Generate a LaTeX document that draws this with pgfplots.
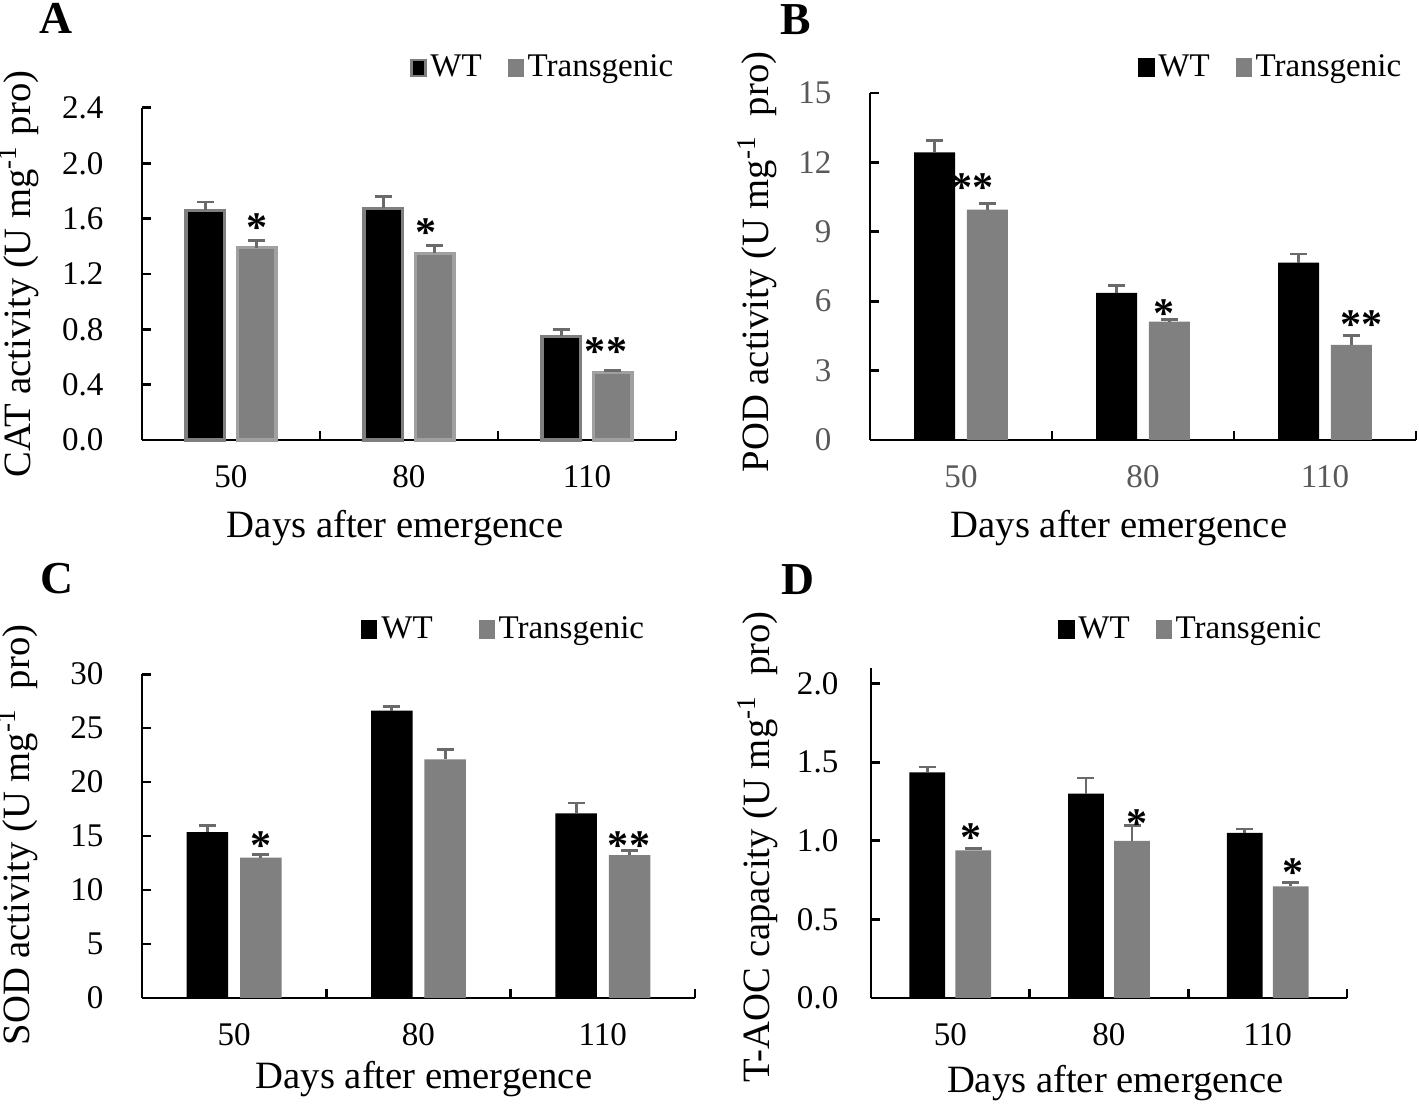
\documentclass[border=0pt]{standalone}
\usepackage{fontspec}
\setmainfont{Liberation Serif}
\usepackage{pgfplots}
\pgfplotsset{compat=1.18}
\definecolor{bargray}{HTML}{808080}
\definecolor{errgray}{HTML}{6A6A6A}
\definecolor{wtedge}{HTML}{7F7F7F}
\definecolor{tredge}{HTML}{A0A0A0}
\definecolor{tickgray}{HTML}{595959}
\pgfplotsset{
  sqlegend/.style 2 args={legend image code/.code={\filldraw[fill=#1, draw=#2, line width=0.6pt] (0cm,-0.08cm) rectangle (0.14cm,0.085cm);}},
  errs/.style={error bars/.cd, y dir=plus, y explicit, error mark=|,
     error bar style={errgray, line width=0.8pt},
     error mark options={errgray, mark size=0.085cm, line width=0.8pt}},
  stars/.style={draw=none, mark=none, forget plot, nodes near coords={\pgfplotspointmeta},
     point meta=explicit symbolic,
     nodes near coords style={anchor=base, inner sep=0pt, font=\fontsize{12}{14}\bfseries\selectfont}},
  panel/.style={
    scale only axis, anchor=south west, clip=false,
    axis x line*=bottom, axis y line*=left,
    xmin=-0.5, xmax=2.5, ymin=0,
    xtick={0,1,2}, xticklabels={50,80,110},
    minor xtick={0.5,1.5,2.5},
    major x tick style={draw=none},
    tick align=inside,
    major tick length=0.09cm, minor tick length=0.09cm,
    tick style={black, line width=0.85pt},
    axis line style={line width=0.85pt, black},
    ticklabel style={font=\fontsize{9.4}{11}\selectfont, inner sep=0pt},
    yticklabel style={anchor=east, xshift=-0.38cm},
    xticklabel style={anchor=base, yshift=-0.48cm},
    label style={font=\fontsize{11}{13}\selectfont, inner sep=0pt},
    xlabel={Days after emergence},
    legend style={draw=none, fill=none, inner sep=0pt, outer sep=0pt, legend columns=2,
       font=\fontsize{9.4}{11}\selectfont, anchor=east, nodes={inner sep=1.1pt},
       /tikz/every even column/.append style={column sep=0.22cm}},
  },
}
\begin{document}
\begin{tikzpicture}
\useasboundingbox (0,0) rectangle (14.19,11.05);
% ---------------- A ----------------
\begin{axis}[panel, at={(1.42cm,6.65cm)}, width=5.34cm, height=3.32cm,
  ymax=2.4, ytick={0,0.4,0.8,1.2,1.6,2.0,2.4},
  yticklabels={0.0,0.4,0.8,1.2,1.6,2.0,2.4},
  ylabel={CAT activity (U mg\textsuperscript{-1} pro)},
  xlabel style={at={(axis description cs:0.474,-0.295)}, anchor=base},
  ylabel style={at={(axis description cs:-0.208,0.50)}, anchor=base},
  legend style={at={(axis description cs:1.002,1.12)}}]
\addplot[ybar, bar width=0.215, bar shift=0pt, fill=black, draw=wtedge, line width=0.9pt, sqlegend={black}{wtedge}, errs]
  coordinates {(-0.145,1.66) +- (0,0.06) (0.855,1.675) +- (0,0.085) (1.855,0.75) +- (0,0.05)};
\addplot[ybar, bar width=0.215, bar shift=0pt, fill=bargray, draw=tredge, line width=0.9pt, sqlegend={bargray}{bargray}, errs]
  coordinates {(0.145,1.39) +- (0,0.05) (1.145,1.35) +- (0,0.055) (2.145,0.49) +- (0,0.01)};
\legend{WT,Transgenic}
\addplot[stars] table[meta=m] {
x y m
0.144 1.433 *
1.097 1.40 *
2.107 0.535 **
};
\node[anchor=base, font=\fontsize{13}{15}\bfseries\selectfont] at (axis description cs:-0.161,1.223) {A};
\end{axis}
% ---------------- B ----------------
\begin{axis}[panel, at={(8.70cm,6.65cm)}, width=5.46cm, height=3.47cm,
  ymax=15, ytick={0,3,6,9,12,15},
  yticklabels={0,3,6,9,12,15},
  ticklabel style={color=tickgray},
  ylabel={POD activity (U mg\textsuperscript{-1}\ \ pro)},
  xlabel style={at={(axis description cs:0.456,-0.282)}, anchor=base},
  ylabel style={at={(axis description cs:-0.185,0.513)}, anchor=base},
  legend style={at={(axis description cs:0.98,1.072)}}]
\addplot[ybar, bar width=0.225, bar shift=0pt, fill=black, draw=none, sqlegend={black}{black}, errs]
  coordinates {(-0.145,12.43) +- (0,0.51) (0.855,6.36) +- (0,0.32) (1.855,7.67) +- (0,0.37)};
\addplot[ybar, bar width=0.225, bar shift=0pt, fill=bargray, draw=none, sqlegend={bargray}{bargray}, errs]
  coordinates {(0.145,9.96) +- (0,0.26) (1.145,5.12) +- (0,0.09) (2.145,4.11) +- (0,0.39)};
\legend{WT,Transgenic}
\addplot[stars] table[meta=m] {
x y m
0.065 10.29 **
1.113 4.86 *
2.199 4.37 **
};
\node[anchor=base, font=\fontsize{13}{15}\bfseries\selectfont] at (axis description cs:-0.1355,1.170) {B};
\end{axis}
% ---------------- C ----------------
\begin{axis}[panel, at={(1.42cm,1.07cm)}, width=5.53cm, height=3.24cm,
  ymax=30, ytick={0,5,10,15,20,25,30},
  yticklabels={0,5,10,15,20,25,30},
  ylabel={SOD activity (U mg\textsuperscript{-1}\ \ pro)},
  xlabel style={at={(axis description cs:0.51,-0.278)}, anchor=base},
  ylabel style={at={(axis description cs:-0.203,0.503)}, anchor=base},
  legend style={at={(axis description cs:0.915,1.136)}, /tikz/every even column/.append style={column sep=0.42cm}}]
\addplot[ybar, bar width=0.225, bar shift=0pt, fill=black, draw=none, sqlegend={black}{black}, errs]
  coordinates {(-0.145,15.35) +- (0,0.65) (0.855,26.6) +- (0,0.4) (1.855,17.1) +- (0,0.95)};
\addplot[ybar, bar width=0.225, bar shift=0pt, fill=bargray, draw=none, sqlegend={bargray}{bargray}, errs]
  coordinates {(0.145,13.0) +- (0,0.3) (1.145,22.1) +- (0,0.9) (2.145,13.24) +- (0,0.42)};
\legend{WT,Transgenic}
\addplot[stars] table[meta=m] {
x y m
0.146 12.83 *
2.142 12.83 **
};
\node[anchor=base, font=\fontsize{13}{15}\bfseries\selectfont] at (axis description cs:-0.154,1.247) {C};
\end{axis}
% ---------------- D ----------------
\begin{axis}[panel, at={(8.71cm,1.07cm)}, width=4.76cm, height=3.30cm,
  ymax=2.1, ytick={0,0.5,1.0,1.5,2.0},
  yticklabels={0.0,0.5,1.0,1.5,2.0},
  yticklabel style={xshift=0.06cm},
  ylabel={T-AOC capacity (U mg\textsuperscript{-1}\ \ pro)},
  xlabel style={at={(axis description cs:0.513,-0.285)}, anchor=base},
  ylabel style={at={(axis description cs:-0.214,0.458)}, anchor=base},
  legend style={at={(axis description cs:0.954,1.115)}}]
\addplot[ybar, bar width=0.225, bar shift=0pt, fill=black, draw=none, sqlegend={black}{black}, errs]
  coordinates {(-0.145,1.436) +- (0,0.034) (0.855,1.30) +- (0,0.10) (1.855,1.05) +- (0,0.025)};
\addplot[ybar, bar width=0.225, bar shift=0pt, fill=bargray, draw=none, sqlegend={bargray}{bargray}, errs]
  coordinates {(0.145,0.94) +- (0,0.01) (1.145,1.00) +- (0,0.10) (2.145,0.71) +- (0,0.025)};
\legend{WT,Transgenic}
\addplot[stars] table[meta=m] {
x y m
0.133 0.93 *
1.174 1.02 *
2.163 0.709 *
};
\node[anchor=base, font=\fontsize{13}{15}\bfseries\selectfont] at (axis description cs:-0.153,1.224) {D};
\end{axis}
\end{tikzpicture}
\end{document}
